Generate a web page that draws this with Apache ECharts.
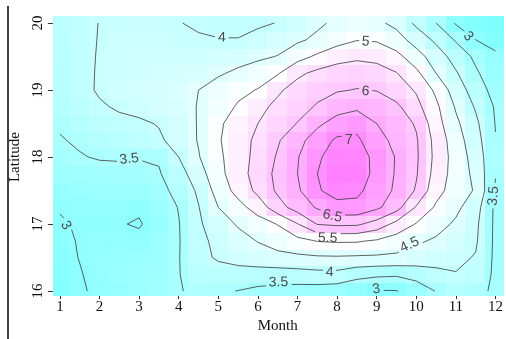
<!DOCTYPE html>
<html><head><meta charset="utf-8">
<script src="https://cdn.jsdelivr.net/npm/echarts@6/dist/echarts.min.js"></script>
<style>html,body{margin:0;padding:0;background:#fff}#c{width:506px;height:339px}</style>
</head><body><div id="c"></div>
<script>
// ---- data ----
const months = [1,1.5,2,2.5,3,3.5,4,4.5,5,5.5,6,6.5,7,7.5,8,8.5,9,9.5,10,10.5,11,11.5,12];
const latitudes = [16,16.25,16.5,16.75,17,17.25,17.5,17.75,18,18.25,18.5,18.75,19,19.25,19.5,19.75,20];
const xTickLabels = ['1','2','3','4','5','6','7','8','9','10','11','12'];
const yTickLabels = ['16','17','18','19','20'];
const contourLevels = [3,3.5,4,4.5,5,5.5,6,6.5,7];
// values per latitude row, months 1..12 step 0.5
const zLat16_00 = [2.82,2.95,3.08,3.15,3.2,3.3,3.47,3.6,3.56,3.49,3.4,3.35,3.3,3.28,3.22,3.08,2.97,2.98,3.2,3.52,3.7,3.58,3.45];
const zLat16_25 = [2.87,2.98,3.1,3.17,3.2,3.27,3.48,3.75,3.8,3.78,3.76,3.77,3.8,3.85,3.86,3.68,3.6,3.57,3.7,3.87,3.98,3.85,3.4];
const zLat16_50 = [2.9,3.01,3.1,3.15,3.17,3.25,3.48,3.86,4.06,4.2,4.3,4.36,4.4,4.44,4.45,4.43,4.42,4.4,4.3,4.2,4.1,3.97,3.4];
const zLat16_75 = [2.93,3.02,3.08,3.1,3.08,3.2,3.47,3.9,4.1,4.33,4.52,4.7,4.87,5.02,5.06,5.05,4.95,4.77,4.58,4.43,4.25,4.06,3.4];
const zLat17_00 = [2.97,3.03,3.05,3.02,2.97,3.15,3.48,3.93,4.27,4.55,4.78,5.02,5.48,6.02,6.1,6.08,5.8,5.35,4.97,4.7,4.42,4.1,3.4];
const zLat17_25 = [3.02,3.06,3.08,3.07,3.05,3.22,3.52,3.98,4.5,4.83,5.22,5.8,6.22,6.55,6.85,6.85,6.6,6.2,5.45,4.93,4.62,4.2,3.4];
const zLat17_50 = [3.15,3.18,3.2,3.22,3.25,3.35,3.65,4.08,4.7,5.17,5.62,6.08,6.42,6.95,7.18,7.12,6.75,6.42,5.95,5.17,4.77,4.45,3.45];
const zLat17_75 = [3.28,3.3,3.33,3.36,3.4,3.46,3.8,4.28,4.85,5.28,5.72,6.12,6.5,7.0,7.3,7.28,6.85,6.45,6.04,5.3,4.78,4.38,3.52];
const zLat18_00 = [3.4,3.47,3.54,3.55,3.52,3.55,4.0,4.47,4.9,5.28,5.65,6.05,6.47,6.93,7.22,7.2,6.88,6.46,6.07,5.36,4.78,4.3,3.55];
const zLat18_25 = [3.47,3.56,3.66,3.75,3.83,3.92,4.2,4.53,4.95,5.3,5.6,5.95,6.33,6.75,7.08,7.08,6.7,6.35,6.05,5.33,4.72,4.2,3.52];
const zLat18_50 = [3.55,3.68,3.82,3.9,3.92,4.03,4.25,4.53,4.92,5.22,5.5,5.75,6.02,6.4,6.7,6.85,6.5,6.25,5.95,5.2,4.6,4.1,3.48];
const zLat18_75 = [3.7,3.8,3.95,4.05,4.15,4.25,4.35,4.52,4.78,5.05,5.36,5.62,5.82,6.05,6.3,6.4,6.3,6.1,5.65,5.1,4.45,3.95,3.45];
const zLat19_00 = [3.72,3.87,4.05,4.15,4.22,4.3,4.38,4.5,4.72,4.89,5.02,5.42,5.7,5.85,5.96,6.02,5.98,5.75,5.45,4.9,4.25,3.78,3.3];
const zLat19_25 = [3.72,3.88,4.04,4.12,4.18,4.22,4.28,4.35,4.44,4.6,4.78,4.96,5.4,5.62,5.75,5.8,5.72,5.52,5.12,4.5,4.05,3.57,3.2];
const zLat19_50 = [3.73,3.88,4.03,4.1,4.14,4.15,4.15,4.17,4.22,4.3,4.4,4.52,4.82,5.08,5.3,5.4,5.35,5.15,4.7,4.25,3.8,3.4,3.1];
const zLat19_75 = [3.75,3.87,4.02,4.1,4.12,4.1,4.06,4.03,4.01,4.01,4.1,4.25,4.42,4.6,4.82,4.98,4.95,4.7,4.3,3.9,3.45,3.0,2.8];
const zLat20_00 = [3.78,3.88,4.01,4.05,4.08,4.06,4.01,3.96,3.93,3.92,3.95,4.01,4.2,4.41,4.6,4.68,4.6,4.37,3.9,3.5,2.95,2.8,2.72];
// contour label spots: [level, month, latitude]
const contourLabels = [
  [4, 5.09, 19.78], [5, 8.72, 19.72], [6, 8.72, 18.98], [7, 8.30, 18.25],
  [6.5, 7.88, 17.12], [5.5, 7.76, 16.79], [4.5, 9.83, 16.69], [4, 7.81, 16.28],
  [3.5, 6.52, 16.13], [3, 8.99, 16.03], [3.5, 2.75, 17.97], [3, 1.15, 16.98],
  [3.5, 11.95, 17.42], [3, 11.31, 19.8]
];
// extent of the image raster, in data units
const imageMonthRange = [0.83, 12.2];
const imageLatRange = [15.94, 20.09];

const zRows = [zLat16_00,zLat16_25,zLat16_50,zLat16_75,zLat17_00,zLat17_25,zLat17_50,zLat17_75,zLat18_00,
  zLat18_25,zLat18_50,zLat18_75,zLat19_00,zLat19_25,zLat19_50,zLat19_75,zLat20_00];

const cells = [];
latitudes.forEach((L, j) => months.forEach((m, i) => cells.push([m, L, zRows[j][i], i, j])));
let zMin = Infinity, zMax = -Infinity;
zRows.forEach(r => r.forEach(v => { if (v < zMin) zMin = v; if (v > zMax) zMax = v; }));

function edgeBounds(arr, i) {
  const lo = i > 0 ? (arr[i - 1] + arr[i]) / 2 : arr[i] - (arr[1] - arr[0]) / 2;
  const hi = i < arr.length - 1 ? (arr[i] + arr[i + 1]) / 2 : arr[i] + (arr[i] - arr[i - 1]) / 2;
  return [lo, hi];
}

function interp(a, b, za, zb, lv) {
  const t = (lv - za) / (zb - za);
  return [a[0] + t * (b[0] - a[0]), a[1] + t * (b[1] - a[1])];
}
function contourSegments(lv) {
  const segs = [];
  for (let j = 0; j < latitudes.length - 1; j++) {
    for (let i = 0; i < months.length - 1; i++) {
      const c = [[months[i], latitudes[j]], [months[i + 1], latitudes[j]], [months[i + 1], latitudes[j + 1]], [months[i], latitudes[j + 1]]];
      const z = [zRows[j][i], zRows[j][i + 1], zRows[j + 1][i + 1], zRows[j + 1][i]];
      const ab = z.map(v => v >= lv);
      const ep = [null, null, null, null];
      for (let e = 0; e < 4; e++) {
        const a = e, b = (e + 1) % 4;
        if (ab[a] !== ab[b]) ep[e] = interp(c[a], c[b], z[a], z[b], lv);
      }
      const es = [0, 1, 2, 3].filter(e => ep[e]);
      if (es.length === 2) segs.push([ep[es[0]], ep[es[1]]]);
      else if (es.length === 4) {
        const center = (z[0] + z[1] + z[2] + z[3]) / 4 >= lv;
        if (center === ab[0]) { segs.push([ep[0], ep[1]]); segs.push([ep[2], ep[3]]); }
        else { segs.push([ep[3], ep[0]]); segs.push([ep[1], ep[2]]); }
      }
    }
  }
  return segs;
}
function findIndex(arr, v) {
  let i = 0;
  while (i < arr.length - 2 && arr[i + 1] <= v) i++;
  return i;
}
function gradientAt(m, L) {
  const i = findIndex(months, m), j = findIndex(latitudes, L);
  const dm = months[i + 1] - months[i], dL = latitudes[j + 1] - latitudes[j];
  const t = (m - months[i]) / dm, u = (L - latitudes[j]) / dL;
  const z00 = zRows[j][i], z10 = zRows[j][i + 1], z01 = zRows[j + 1][i], z11 = zRows[j + 1][i + 1];
  const gm = ((z10 - z00) * (1 - u) + (z11 - z01) * u) / dm;
  const gL = ((z01 - z00) * (1 - t) + (z11 - z10) * t) / dL;
  return [gm, gL];
}

const LABEL_FONT = 14;
function textWidth(s) { let w = 0; for (const ch of s) w += (ch === '.' ? 0.28 : 0.556) * LABEL_FONT; return w; }

const chart = echarts.init(document.getElementById('c'), null, { renderer: 'canvas' });
chart.setOption({
  animation: false,
  backgroundColor: '#ffffff',
  grid: { left: 52, right: 8, top: 23, bottom: 42 },
  xAxis: {
    type: 'value', min: 1, max: 12, interval: 1, offset: 4,
    axisLine: { show: true, onZero: false, lineStyle: { color: '#333', width: 1 } },
    axisTick: { show: true, length: 4, lineStyle: { color: '#333' } },
    axisLabel: { margin: 4, color: '#111', fontFamily: 'Liberation Serif', fontSize: 15,
      formatter: v => xTickLabels[Math.round(v) - 1] || '' },
    splitLine: { show: false },
    name: 'Month', nameLocation: 'middle', nameGap: 21,
    nameTextStyle: { fontFamily: 'Liberation Serif', fontSize: 15, color: '#111' }
  },
  yAxis: {
    type: 'value', min: 16, max: 20, interval: 1, offset: 7,
    axisLine: { show: true, onZero: false, lineStyle: { color: '#333', width: 1 } },
    axisTick: { show: true, length: 5, lineStyle: { color: '#333' } },
    axisLabel: { margin: 7, rotate: 90, color: '#111', fontFamily: 'Liberation Serif', fontSize: 15,
      formatter: v => yTickLabels[Math.round(v) - 16] || '' },
    splitLine: { show: false },
    name: 'Latitude', nameLocation: 'middle', nameGap: 27,
    nameTextStyle: { fontFamily: 'Liberation Serif', fontSize: 15, color: '#111' }
  },
  visualMap: {
    type: 'continuous', show: false, seriesIndex: 0, dimension: 2,
    min: zMin, max: zMax,
    inRange: { color: ['#80FFFF', '#FFFFFF', '#FF80FF'] }
  },
  graphic: [{
    type: 'line', z: 100, shape: { x1: 8, y1: 6, x2: 8, y2: 339 },
    style: { stroke: '#000', lineWidth: 1.5 }
  }],
  series: [{
    type: 'custom', coordinateSystem: 'cartesian2d', clip: false, z: 1, silent: true,
    encode: { x: 0, y: 1 },
    data: cells,
    renderItem: function (params, api) {
      const i = api.value(3), j = api.value(4);
      let [x0, x1] = edgeBounds(months, i);
      let [y0, y1] = edgeBounds(latitudes, j);
      x0 = Math.max(x0, imageMonthRange[0]); x1 = Math.min(x1, imageMonthRange[1]);
      y0 = Math.max(y0, imageLatRange[0]); y1 = Math.min(y1, imageLatRange[1]);
      const pA = api.coord([x0, y1]), pB = api.coord([x1, y0]);
      const left = Math.floor(pA[0]), top = Math.floor(pA[1]);
      return {
        type: 'rect',
        shape: { x: left, y: top, width: Math.ceil(pB[0]) - left, height: Math.ceil(pB[1]) - top },
        style: { fill: api.visual('color') }
      };
    }
  }, {
    type: 'custom', coordinateSystem: 'cartesian2d', clip: false, z: 5, silent: true,
    encode: { x: 0, y: 1 },
    data: contourLevels.map(lv => [1, 16, lv]),
    renderItem: function (params, api) {
      const lv = api.value(2);
      const children = [];
      const labels = contourLabels.filter(l => l[0] === lv).map(l => {
        const c = api.coord([l[1], l[2]]);
        const g = gradientAt(l[1], l[2]);
        const eps = 0.02 / Math.hypot(g[0], g[1]);
        const p2 = api.coord([l[1] - g[1] * eps, l[2] + g[0] * eps]);
        let ang = Math.atan2(p2[1] - c[1], p2[0] - c[0]);
        if (ang > Math.PI / 2) ang -= Math.PI;
        if (ang < -Math.PI / 2) ang += Math.PI;
        if (ang > 1.35) ang -= Math.PI; // near-vertical text reads upward
        const text = String(lv);
        return { c, ang, text, hw: textWidth(text) / 2 + 3, hh: 6 };
      });
      const segs = contourSegments(lv);
      const lineStyle = { stroke: '#3a3a3a', lineWidth: 0.8 };
      segs.forEach(s => {
        const a = api.coord(s[0]), b = api.coord(s[1]);
        const len = Math.hypot(b[0] - a[0], b[1] - a[1]);
        const n = Math.max(1, Math.ceil(len / 1.2));
        let rs = null, re = null;
        const push = () => {
          children.push({ type: 'line', shape: {
            x1: a[0] + rs * (b[0] - a[0]), y1: a[1] + rs * (b[1] - a[1]),
            x2: a[0] + re * (b[0] - a[0]), y2: a[1] + re * (b[1] - a[1]) }, style: lineStyle });
        };
        for (let k = 0; k < n; k++) {
          const t0 = k / n, t1 = (k + 1) / n, tm = (t0 + t1) / 2;
          const mx = a[0] + tm * (b[0] - a[0]), my = a[1] + tm * (b[1] - a[1]);
          const hidden = labels.some(lb => {
            const dx = mx - lb.c[0], dy = my - lb.c[1];
            const u = dx * Math.cos(lb.ang) + dy * Math.sin(lb.ang);
            const v = -dx * Math.sin(lb.ang) + dy * Math.cos(lb.ang);
            return Math.abs(u) < lb.hw && Math.abs(v) < lb.hh;
          });
          if (!hidden) { if (rs === null) rs = t0; re = t1; }
          else if (rs !== null) { push(); rs = null; }
        }
        if (rs !== null) push();
      });
      labels.forEach(lb => {
        children.push({
          type: 'text', x: lb.c[0], y: lb.c[1], rotation: -lb.ang,
          style: { text: lb.text, fill: '#4a4a4a', fontSize: LABEL_FONT, fontFamily: 'Liberation Sans',
            align: 'center', verticalAlign: 'middle' }
        });
      });
      return { type: 'group', children };
    }
  }]
});
</script>
</body></html>
